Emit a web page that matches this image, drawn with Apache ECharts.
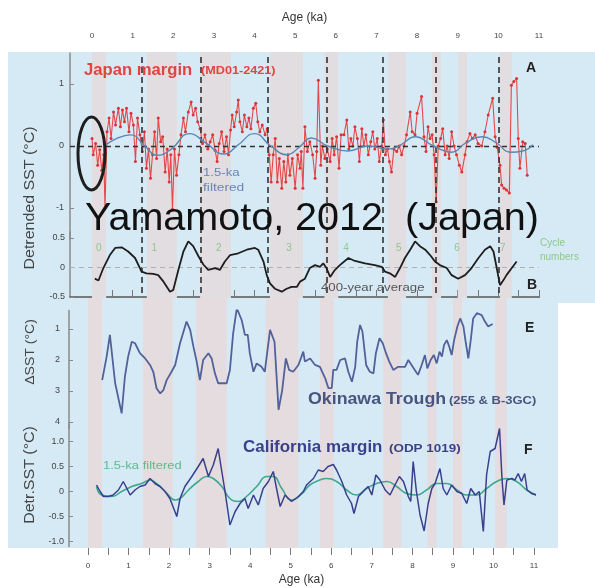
<!DOCTYPE html>
<html><head><meta charset="utf-8">
<script src="https://cdn.jsdelivr.net/npm/echarts@6/dist/echarts.min.js"></script>
<style>html,body{margin:0;padding:0;background:#fff}#c{width:595px;height:588px}</style>
</head><body><div id="c"></div>
<script>
// ---- Panel A: Japan margin (MD01-2421) detrended SST ----
const japanAge = [0.0,0.03,0.09,0.14,0.19,0.24,0.29,0.32,0.37,0.42,0.47,0.53,0.58,0.65,0.7,0.75,0.8,0.85,0.91,0.96,1.02,1.07,1.12,1.18,1.24,1.29,1.34,1.39,1.44,1.49,1.54,1.59,1.63,1.69,1.74,1.8,1.85,1.9,1.94,1.98,2.03,2.08,2.14,2.19,2.25,2.3,2.37,2.44,2.49,2.55,2.6,2.66,2.72,2.78,2.85,2.91,2.97,3.03,3.08,3.13,3.19,3.25,3.31,3.36,3.41,3.45,3.5,3.56,3.6,3.64,3.7,3.75,3.81,3.86,3.91,3.97,4.03,4.08,4.13,4.19,4.26,4.31,4.36,4.41,4.46,4.51,4.56,4.61,4.67,4.72,4.77,4.82,4.87,4.93,5.0,5.06,5.12,5.15,5.19,5.24,5.3,5.36,5.43,5.49,5.53,5.57,5.63,5.67,5.73,5.79,5.86,5.91,5.96,6.02,6.08,6.13,6.2,6.27,6.32,6.37,6.42,6.47,6.53,6.58,6.64,6.69,6.74,6.8,6.86,6.91,6.96,7.02,7.07,7.13,7.17,7.22,7.27,7.32,7.37,7.43,7.5,7.56,7.62,7.68,7.74,7.83,7.88,7.95,8.0,8.11,8.17,8.22,8.27,8.32,8.37,8.42,8.47,8.52,8.58,8.63,8.69,8.74,8.79,8.85,8.91,8.97,9.04,9.1,9.18,9.23,9.3,9.36,9.43,9.5,9.59,9.67,9.75,9.86,9.92,9.97,10.04,10.08,10.14,10.2,10.27,10.32,10.38,10.45,10.49,10.53,10.6,10.66,10.71];
const japanSST = [0.12,-0.14,0.04,-0.31,-0.06,-0.39,-0.14,-1.0,0.23,0.45,0.12,0.55,0.34,0.61,0.31,0.58,0.39,0.61,0.23,0.53,0.34,-0.25,0.45,0.18,-0.09,0.23,-0.36,-0.05,-0.52,-0.14,0.23,-0.2,0.45,0.07,0.15,-0.42,-0.05,-0.58,-0.14,-1.02,-0.05,-0.47,-0.14,0.18,0.45,0.23,0.55,0.71,0.5,0.61,0.39,0.28,0.04,0.18,-0.05,0.07,0.18,-0.07,-0.25,0.04,0.23,-0.09,0.15,-0.14,0.26,0.5,0.31,0.55,0.74,0.39,0.23,0.5,0.31,0.45,0.28,0.61,0.69,0.39,0.23,0.34,0.18,0.28,-0.14,-0.58,-0.14,0.12,-0.58,-0.2,-0.68,-0.25,-0.58,-0.14,-0.47,-0.2,-0.68,-0.14,-0.36,-0.09,-0.68,0.31,-0.09,0.07,-0.14,-0.52,-0.09,1.06,-0.31,0,-0.2,-0.05,-0.25,0.12,-0.14,0.15,-0.36,0.18,0.18,0.42,-0.05,0.12,0,0.31,0.12,-0.25,0.28,0,0.18,-0.14,0.07,0.23,-0.05,0.12,-0.25,0,0.42,-0.14,-0.05,-0.25,-0.42,-0.05,-0.09,0,-0.14,0,0.18,0.55,0.23,0.18,0.53,0.8,0.15,-0.09,0.31,0.12,0.18,-0.14,-0.9,0,0.12,0.28,-0.14,0,-0.2,0.23,0,-0.14,-0.31,-0.42,-0.14,0.07,0.2,0.12,0.18,0.04,0,0.23,0.5,0.77,0.15,-0.02,-0.31,-0.63,-0.68,-0.71,-0.76,0.98,1.04,1.09,0.12,-0.36,0.07,0.04,-0.47];
const japanFiltAge = [0.3,0.6,0.95,1.3,1.6,1.95,2.4,2.8,3.25,3.6,4.0,4.4,4.8,5.1,5.4,5.8,6.3,6.8,7.3,7.6,7.95,8.4,8.85,9.2,9.6,9.95,10.3,10.6,10.85];
const japanFiltSST = [0.0,0.12,0.18,0.0,-0.15,-0.05,0.2,0.05,-0.13,0.02,0.2,0.0,-0.14,-0.02,0.13,0.0,-0.08,0.0,-0.05,0.02,0.15,0.0,-0.1,0.05,0.15,0.05,-0.1,-0.08,0.02];

// ---- Panel B: 400-year average ----
const avgAge = [0.07,0.16,0.28,0.44,0.57,0.73,0.89,1.06,1.22,1.34,1.51,1.63,1.76,1.92,2.0,2.13,2.25,2.37,2.49,2.62,2.74,2.86,3.03,3.15,3.27,3.4,3.6,3.81,4.01,4.09,4.22,4.3,4.38,4.5,4.67,4.79,4.91,5.04,5.12,5.24,5.36,5.49,5.61,5.69,5.77,5.86,5.98,6.1,6.31,6.47,6.72,6.96,7.13,7.21,7.33,7.46,7.58,7.7,7.83,7.95,8.07,8.2,8.32,8.44,8.56,8.73,8.85,9.01,9.18,9.34,9.51,9.67,9.8,9.88,9.96,10.04,10.13,10.2,10.33,10.45];
const avgSST = [-0.19,-0.22,-0.01,0.21,0.33,0.34,0.27,0.16,-0.07,-0.1,-0.11,-0.13,-0.24,-0.41,-0.38,-0.03,0.27,0.44,0.36,0.19,0.05,-0.04,-0.01,-0.04,0.1,0.21,0.24,0.3,0.33,0.3,0.1,-0.13,-0.27,-0.36,-0.41,-0.36,-0.33,-0.33,-0.24,-0.19,-0.01,0.04,0.01,0.07,-0.01,-0.16,-0.04,0.04,0.16,0.11,0.07,0.04,0.01,-0.07,-0.1,-0.16,-0.01,0.16,0.3,0.44,0.36,0.3,0.21,0.1,0.04,-0.01,-0.13,-0.19,-0.13,-0.01,0.16,0.3,0.36,0.27,-0.01,-0.3,-0.21,-0.13,-0.01,0.1];
const cycleNames = ['0','1','2','3','4','5','6','7'];
const cycleAge = [0.17,1.53,3.12,4.85,6.25,7.55,8.98,10.11];
const cycleBoundaries = [1.22,2.68,4.33,5.78,7.16,8.46,10.01];
const bandStart = [0.0,1.35,2.66,4.38,5.72,7.28,8.37,9.0,10.04];
const bandEnd   = [0.35,2.09,3.42,5.19,6.06,7.73,8.59,9.23,10.33];

// ---- Panel E: Okinawa Trough ----
const okinawaAge = [0.35,0.46,0.54,0.67,0.83,0.91,0.99,1.08,1.16,1.28,1.41,1.53,1.61,1.69,1.78,1.86,1.94,2.06,2.15,2.27,2.43,2.52,2.6,2.68,2.76,2.84,2.97,3.05,3.13,3.21,3.42,3.5,3.58,3.67,3.79,3.87,3.94,3.99,4.08,4.16,4.28,4.36,4.49,4.6,4.7,4.79,4.88,4.96,5.06,5.19,5.31,5.35,5.48,5.6,5.72,5.85,5.93,6.01,6.05,6.13,6.22,6.34,6.42,6.51,6.59,6.64,6.71,6.77,6.86,6.95,7.04,7.1,7.19,7.27,7.35,7.43,7.53,7.65,7.82,7.9,7.98,8.06,8.14,8.23,8.31,8.37,8.45,8.53,8.6,8.67,8.73,8.78,8.85,8.91,8.97,9.03,9.11,9.18,9.26,9.32,9.38,9.44,9.5,9.59,9.71,9.79,9.87,9.98];
const okinawaSST = [2.65,1.89,1.19,2.75,3.72,2.54,1.89,1.41,1.46,1.78,1.95,2.16,2.38,2.91,3.08,2.97,2.65,2.38,2.16,1.46,0.76,1.03,1.57,2.05,2.65,2.0,1.78,1.95,2.43,2.75,2.75,2.32,1.14,0.33,0.71,1.19,1.19,1.78,2.38,2.11,2.22,2.38,1.03,1.41,3.61,2.97,1.95,2.32,2.38,2.16,1.73,2.05,1.95,2.16,2.22,2.59,2.91,2.91,2.32,2.32,2.0,1.95,2.38,2.7,2.22,1.41,0.87,1.09,2.16,2.38,2.43,1.78,1.3,1.46,1.78,2.05,2.32,2.22,2.22,2.0,2.16,2.32,2.48,2.16,1.84,2.27,2.0,1.84,2.11,1.73,1.89,1.52,1.36,1.57,1.84,1.36,0.92,0.66,0.92,1.46,1.95,1.36,0.66,0.49,0.55,0.76,0.92,0.84];

// ---- Panel F: California margin (ODP 1019) ----
const califAge = [0.21,0.3,0.38,0.5,0.62,0.75,0.87,1.04,1.16,1.28,1.41,1.53,1.65,1.78,1.9,2.02,2.11,2.19,2.27,2.39,2.56,2.72,2.84,2.97,3.09,3.21,3.3,3.38,3.5,3.63,3.75,3.87,3.95,4.08,4.2,4.32,4.45,4.57,4.65,4.74,4.86,5.02,5.19,5.31,5.39,5.56,5.68,5.8,5.92,6.05,6.13,6.26,6.38,6.5,6.56,6.67,6.79,6.91,7.0,7.1,7.2,7.33,7.45,7.57,7.68,7.78,7.9,7.96,8.02,8.1,8.19,8.29,8.39,8.48,8.56,8.68,8.76,8.85,8.97,9.1,9.22,9.34,9.44,9.55,9.65,9.75,9.83,9.92,10.04,10.15,10.21,10.26,10.33,10.45,10.53,10.61,10.69,10.77,10.83,10.94,11.06];
const califSST = [0.13,0.0,-0.1,-0.1,-0.07,0.03,0.2,-0.07,0.03,0.1,0.13,0.26,0.16,0.1,0.0,-0.14,-0.33,-0.5,-0.14,0.1,0.3,0.5,0.66,0.3,0.53,0.86,0.4,0.0,-0.67,-0.4,-0.24,-0.14,-0.34,-0.07,-0.27,0.06,0.2,0.4,0.06,-0.3,-0.07,-0.2,-0.1,0.0,0.13,0.26,0.43,0.4,0.5,0.54,0.43,0.2,-0.07,-0.24,-0.44,-0.1,0.0,0.1,-0.07,0.33,0.23,0.03,-0.07,0.13,0.3,0.2,-0.1,-0.2,0.6,0.0,-0.47,-0.79,-0.24,0.06,0.16,0.46,0.06,-0.07,0.13,0.0,-0.04,-0.24,0.06,-0.07,0.0,-0.8,0.33,0.8,0.86,1.26,0.26,-0.27,0.23,0.26,0.23,0.36,0.2,0.36,0.03,-0.04,-0.07];
const califFiltAge = [0.21,0.34,0.59,0.83,1.08,1.32,1.53,1.73,1.94,2.15,2.27,2.48,2.72,2.93,3.09,3.3,3.5,3.71,3.91,4.16,4.41,4.57,4.78,5.02,5.27,5.47,5.72,5.88,6.13,6.38,6.62,6.87,7.12,7.37,7.61,7.86,8.1,8.35,8.6,8.85,9.1,9.34,9.59,9.83,10.08,10.33,10.57,10.82,11.06];
const califFiltSST = [0.1,-0.07,-0.1,0.0,0.1,0.16,0.23,0.13,-0.03,-0.17,-0.14,0.03,0.2,0.3,0.26,0.1,-0.14,-0.2,-0.1,0.1,0.3,0.3,0.06,-0.17,-0.05,0.13,0.23,0.26,0.2,0.03,-0.07,0.06,0.16,0.2,0.1,-0.04,-0.07,0.03,0.16,0.16,0.03,-0.07,-0.07,0.06,0.2,0.26,0.2,0.03,-0.07];

// ---- tick values ----
const ageTicks = [0,0.5,1,1.5,2,2.5,3,3.5,4,4.5,5,5.5,6,6.5,7,7.5,8,8.5,9,9.5,10,10.5,11];
const ageLabels = [0,1,2,3,4,5,6,7,8,9,10,11];
const ticksA = [-1,0,1];
const ticksB = [-0.5,0,0.5];
const ticksE = [1,2,3,4];
const ticksF = [-1,-0.5,0,0.5,1];

const zip = (a, b) => a.map((v, i) => [v, b[i]]);
const FONT = 'Liberation Sans, Arial, Helvetica, sans-serif';
const bands = bandStart.map((s, i) => [{xAxis: s}, {xAxis: bandEnd[i]}]);
const bandColorTop = '#e2dde0';
const bandColorBot = '#e5dcdf';
const axisGray = '#8a8a8a';
const lbl = {fontFamily: FONT, fontSize: 9, color: '#444'};

function txt(x, y, text, font, fill, extra) {
  return Object.assign({type: 'text', z: 100, silent: true, x: x, y: y,
    style: {text: text, font: font + ' ' + FONT, fill: fill, textVerticalAlign: 'middle'}}, extra || {});
}
function vtxt(x, y, text, size, scale) {
  return {type: 'text', z: 100, silent: true, x: x, y: y, rotation: Math.PI / 2, scaleX: scale,
    style: {text: text, font: size + 'px ' + FONT, fill: '#444', textAlign: 'center', textVerticalAlign: 'middle'}};
}

const chart = echarts.init(document.getElementById('c'), null, {renderer: 'canvas'});
const option = {
  backgroundColor: '#ffffff',
  animation: false,
  grid: [
    {left: 70, right: 56, top: 52, height: 246},
    {left: 70, right: 56, top: 53, height: 186},
    {left: 70, right: 56, top: 232, height: 65},
    {left: 69, right: 61, top: 298, height: 250},
    {left: 69, right: 61, top: 310.4, height: 117.8},
    {left: 69, right: 61, top: 424, height: 122.5}
  ],
  xAxis: [
    {gridIndex: 0, type: 'value', position: 'top', min: -0.541, max: 11, offset: 2,
     name: 'Age (ka)', nameLocation: 'middle', nameGap: 26,
     nameTextStyle: {fontFamily: FONT, fontSize: 12, color: '#333'},
     axisLine: {show: false}, splitLine: {show: false},
     axisTick: {show: true, length: 8, customValues: ageTicks, lineStyle: {color: '#777', width: 1}},
     axisLabel: {customValues: ageLabels, margin: 10, fontFamily: FONT, fontSize: 8, color: '#444'}},
    {gridIndex: 1, type: 'value', min: -0.541, max: 11, show: false},
    {gridIndex: 2, type: 'value', min: -0.541, max: 11,
     axisLine: {show: true, onZero: false, lineStyle: {color: '#555', width: 1.5}},
     axisTick: {show: false}, axisLabel: {show: false}, splitLine: {show: false}},
    {gridIndex: 3, type: 'value', position: 'bottom', min: -0.4686, max: 11, offset: 2,
     name: 'Age (ka)', nameLocation: 'middle', nameGap: 24,
     nameTextStyle: {fontFamily: FONT, fontSize: 12, color: '#333'},
     axisLine: {show: false}, splitLine: {show: false},
     axisTick: {show: true, length: 7, customValues: ageTicks, lineStyle: {color: '#777', width: 1}},
     axisLabel: {customValues: ageLabels, margin: 12, fontFamily: FONT, fontSize: 8, color: '#444'}},
    {gridIndex: 4, type: 'value', min: -0.4686, max: 11, show: false},
    {gridIndex: 5, type: 'value', min: -0.4686, max: 11, show: false}
  ],
  yAxis: [
    {gridIndex: 0, type: 'value', min: 0, max: 1, show: false},
    {gridIndex: 1, type: 'value', min: -1.5, max: 1.5, splitLine: {show: false},
     axisLine: {show: true, onZero: false, lineStyle: {color: axisGray, width: 1.5}},
     axisTick: {show: true, inside: true, length: 4, customValues: ticksA, lineStyle: {color: axisGray}},
     axisLabel: Object.assign({customValues: ticksA, margin: 6}, lbl)},
    {gridIndex: 2, type: 'value', min: -0.5, max: 0.6, splitLine: {show: false},
     axisLine: {show: true, onZero: false, lineStyle: {color: axisGray, width: 1.5}},
     axisTick: {show: true, inside: true, length: 4, customValues: ticksB, lineStyle: {color: axisGray}},
     axisLabel: Object.assign({customValues: ticksB, margin: 5}, lbl)},
    {gridIndex: 3, type: 'value', min: 0, max: 1, show: false},
    {gridIndex: 4, type: 'value', min: 0.4, max: 4.2, inverse: true, splitLine: {show: false},
     axisLine: {show: true, onZero: false, lineStyle: {color: axisGray, width: 1.5}},
     axisTick: {show: true, inside: true, length: 4, customValues: ticksE, lineStyle: {color: axisGray}},
     axisLabel: Object.assign({customValues: ticksE, margin: 9}, lbl)},
    {gridIndex: 5, type: 'value', min: -1.1, max: 1.35, splitLine: {show: false},
     axisLine: {show: true, onZero: false, lineStyle: {color: axisGray, width: 1.5}},
     axisTick: {show: true, inside: true, length: 4, customValues: ticksF, lineStyle: {color: axisGray}},
     axisLabel: Object.assign({customValues: ticksF, margin: 5,
       formatter: v => (v === 0 ? '0' : v.toFixed(1))}, lbl)}
  ],
  series: [
    {type: 'line', xAxisIndex: 0, yAxisIndex: 0, data: [], silent: true, z: 1,
     markArea: {silent: true, itemStyle: {color: bandColorTop}, data: bands}},
    {type: 'line', xAxisIndex: 3, yAxisIndex: 3, data: [], silent: true, z: 1,
     markArea: {silent: true, itemStyle: {color: bandColorBot}, data: bands}},
    {type: 'line', xAxisIndex: 0, yAxisIndex: 0, data: [], silent: true, z: 3,
     markLine: {silent: true, symbol: 'none', label: {show: false},
       lineStyle: {color: '#333', width: 1.6, type: [6, 4]},
       data: cycleBoundaries.map(v => [{coord: [v, 0.98]}, {coord: [v, 0.004]}])}},
    {type: 'line', xAxisIndex: 1, yAxisIndex: 1, data: [], silent: true, z: 3,
     markLine: {silent: true, symbol: 'none', label: {show: false},
       lineStyle: {color: '#333', width: 1.3, type: [5, 4]}, data: [{yAxis: 0}]}},
    {type: 'line', xAxisIndex: 2, yAxisIndex: 2, data: [], silent: true, z: 3,
     markLine: {silent: true, symbol: 'none', label: {show: false},
       lineStyle: {color: '#b0b0b0', width: 1.2, type: [5, 4]}, data: [{yAxis: 0}]}},
    {type: 'line', xAxisIndex: 1, yAxisIndex: 1, data: zip(japanAge, japanSST), z: 4,
     symbol: 'circle', symbolSize: 3, showSymbol: true,
     lineStyle: {color: '#e4484a', width: 1.1}, itemStyle: {color: '#dd3236'}},
    {type: 'line', xAxisIndex: 1, yAxisIndex: 1, data: zip(japanFiltAge, japanFiltSST), z: 5,
     symbol: 'none', smooth: 0.5, lineStyle: {color: '#5a86b5', width: 1.4}},
    {type: 'line', xAxisIndex: 2, yAxisIndex: 2, data: zip(avgAge, avgSST), z: 5,
     symbol: 'none', lineStyle: {color: '#1e1e1e', width: 1.8}},
    {type: 'scatter', xAxisIndex: 2, yAxisIndex: 2, z: 6, symbolSize: 0,
     data: cycleAge.map((a, i) => ({value: [a, 0.33], name: cycleNames[i]})),
     label: {show: true, position: 'inside', formatter: p => p.name,
       fontFamily: FONT, fontSize: 10, color: '#7cbf7c'}},
    {type: 'line', xAxisIndex: 4, yAxisIndex: 4, data: zip(okinawaAge, okinawaSST), z: 5,
     symbol: 'none', lineStyle: {color: '#51619a', width: 1.8}},
    {type: 'line', xAxisIndex: 5, yAxisIndex: 5, data: zip(califFiltAge, califFiltSST), z: 5,
     symbol: 'none', smooth: 0.5, lineStyle: {color: '#3fa78e', width: 1.6}},
    {type: 'line', xAxisIndex: 5, yAxisIndex: 5, data: zip(califAge, califSST), z: 6,
     symbol: 'none', lineStyle: {color: '#38408e', width: 1.5}}
  ],
  graphic: [
    {type: 'rect', z: -100, silent: true, shape: {x: 8, y: 52, width: 587, height: 251}, style: {fill: '#d6eaf6'}},
    {type: 'rect', z: -100, silent: true, shape: {x: 8, y: 303, width: 550, height: 245}, style: {fill: '#d6eaf6'}},
    {type: 'ellipse', z: 100, silent: true, shape: {cx: 91.5, cy: 153.5, rx: 13.5, ry: 36.5},
     style: {fill: 'none', stroke: '#1e1e1e', lineWidth: 3}},
    txt(84, 71, 'Japan margin', 'bold 16px', '#e2443f', {scaleX: 1.04}),
    txt(201, 71, '(MD01-2421)', 'bold 11px', '#e2443f', {scaleX: 1.15}),
    txt(526, 68, 'A', 'bold 14px', '#222'),
    txt(203, 173, '1.5-ka', '11px', '#6b86b6', {scaleX: 1.2}),
    txt(203, 188, 'filtered', '11px', '#6b86b6', {scaleX: 1.25}),
    txt(85, 220, 'Yamamoto, 2012  (Japan)', '38px', '#111', {scaleX: 1.04}),
    txt(540, 243, 'Cycle', '10px', '#8cc88c'),
    txt(540, 257, 'numbers', '10px', '#8cc88c'),
    txt(321, 288, '400-year average', '11px', '#555', {scaleX: 1.2}),
    txt(527, 285, 'B', 'bold 14px', '#222'),
    txt(525, 328, 'E', 'bold 14px', '#222'),
    txt(308, 400, 'Okinawa Trough', 'bold 16px', '#47557f', {scaleX: 1.11}),
    txt(449, 401, '(255 & B-3GC)', 'bold 11px', '#47557f', {scaleX: 1.18}),
    txt(243, 448, 'California margin', 'bold 16px', '#3a408a', {scaleX: 1.06}),
    txt(389, 449, '(ODP 1019)', 'bold 11px', '#3a408a', {scaleX: 1.22}),
    txt(524, 450, 'F', 'bold 14px', '#222'),
    txt(103, 466, '1.5-ka filtered', '11px', '#62b98a', {scaleX: 1.18}),
    vtxt(30, 198, 'Detrended SST (°C)', 14, 1.14),
    vtxt(30, 352, 'ΔSST (°C)', 13, 1.08),
    vtxt(30, 475, 'Detr.SST (°C)', 14, 1.14)
  ]
};
chart.setOption(option);
</script>
</body></html>
